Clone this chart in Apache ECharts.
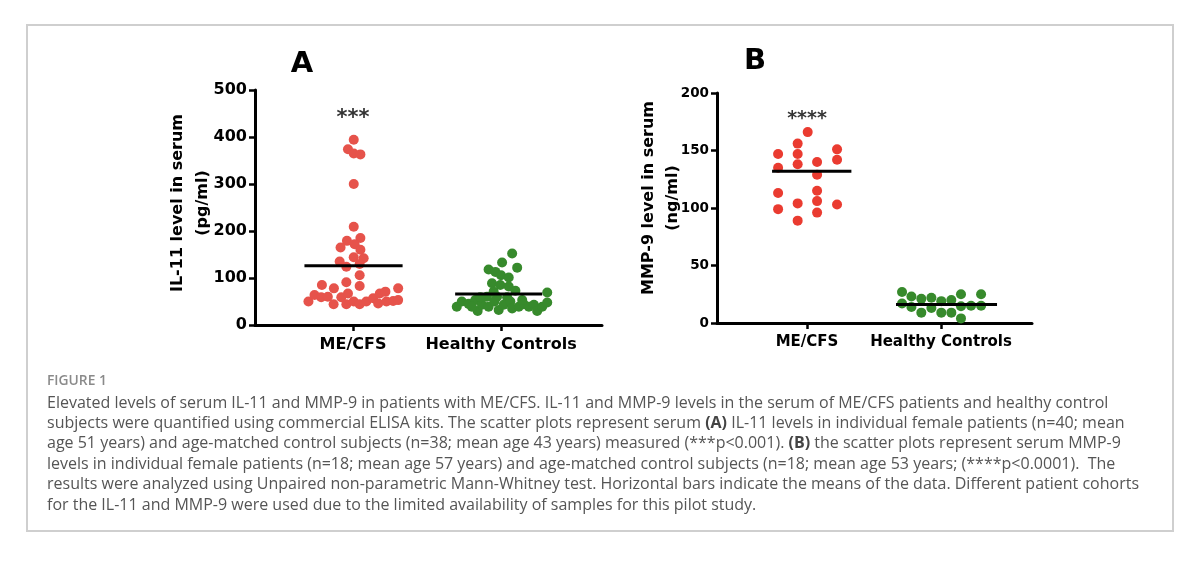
<!DOCTYPE html>
<html><head><meta charset="utf-8">
<script src="https://cdn.jsdelivr.net/npm/echarts@6/dist/echarts.min.js"></script>
<style>html,body{margin:0;padding:0;background:#fff}#c{width:1200px;height:562px}</style>
</head><body><div id="c"></div>
<script>
// ---------- data ----------
const categories = ['ME/CFS', 'Healthy Controls'];
const panelTitles = ['A', 'B'];
const sigLabels = ['***', '****'];
const sigValues = [440, 177];
const yNames = ['IL-11 level in serum\n(pg/ml)', 'MMP-9 level in serum\n(ng/ml)'];

// Panel A: IL-11 (pg/ml)
const ilTicks = [0, 100, 200, 300, 400, 500];
const ilMeValues = [394,374,365,363,300,209,185,179,165,172,160,135,124,144,142,130,106,91,83,85,78,78,50,64,59,60,44,59,44,67,50,44,50,57,46,67,71,50,51,53];
const ilMeJitter = [0.005,-0.034,0.005,0.05,0.005,0.005,0.05,-0.041,-0.084,0.011,0.05,-0.09,-0.045,0.005,0.072,0.045,0.045,-0.045,0.045,-0.21,-0.129,0.305,-0.301,-0.26,-0.215,-0.17,-0.131,-0.079,-0.045,-0.034,0.005,0.045,0.09,0.136,0.17,0.181,0.219,0.226,0.271,0.305];
const ilHcValues = [152,133,122,118,113,106,101,89,85,82,73,69,60,60,59,71,39,50,45,53,30,43,39,50,32,43,50,35,39,44,39,43,30,39,48,59,53,39];
const ilHcJitter = [0.075,0.007,0.109,-0.084,-0.038,0,0.052,-0.061,-0.005,0.052,0.097,0.312,-0.095,-0.027,0.041,-0.05,-0.299,-0.265,-0.219,-0.174,-0.158,-0.129,-0.084,-0.045,-0.016,0.018,0.063,0.075,0.12,0.154,0.188,0.222,0.244,0.278,0.312,-0.14,0.143,-0.197];
const ilMeans = [126, 66];

// Panel B: MMP-9 (ng/ml)
const mmpTicks = [0, 50, 100, 150, 200];
const mmpMeValues = [166,156,147,147,151,142,140,135,138,129,113,115,99,104,106,103,96,89];
const mmpMeJitter = [0.005,-0.07,-0.216,-0.07,0.224,0.224,0.075,-0.216,-0.07,0.075,-0.216,0.075,-0.216,-0.07,0.075,0.224,0.075,-0.07];
const mmpHcValues = [27,23,21,22,19,20,25,25,17,14,9,13,9,9,4,14.5,15,15];
const mmpHcJitter = [-0.291,-0.221,-0.147,-0.072,0.002,0.077,0.149,0.299,-0.291,-0.221,-0.147,-0.072,0.002,0.077,0.149,0.149,0.224,0.299];
const mmpMeans = [132, 16];

const captionHead = 'FIGURE 1';
const captionLines = [
  [['Elevated levels of serum IL-11 and MMP-9 in patients with ME/CFS. IL-11 and MMP-9 levels in the serum of ME/CFS patients and healthy control', 0]],
  [['subjects were quantified using commercial ELISA kits. The scatter plots represent serum ', 0], ['(A)', 1], [' IL-11 levels in individual female patients (n=40; mean', 0]],
  [['age 51 years) and age-matched control subjects (n=38; mean age 43 years) measured (***p<0.001). ', 0], ['(B)', 1], [' the scatter plots represent serum MMP-9', 0]],
  [['levels in individual female patients (n=18; mean age 57 years) and age-matched control subjects (n=18; mean age 53 years; (****p<0.0001).  The', 0]],
  [['results were analyzed using Unpaired non-parametric Mann-Whitney test. Horizontal bars indicate the means of the data. Different patient cohorts', 0]],
  [['for the IL-11 and MMP-9 were used due to the limited availability of samples for this pilot study.', 0]]
];

// ---------- chart ----------
const FONT = '"DejaVu Sans", sans-serif';
const CAP = '"Open Sans", sans-serif';
const RED_A = '#e6534b', RED_B = '#ea3b30', GREEN = '#378a2c';
const pts = (vals, jit, c) => vals.map((v, i) => [c + jit[i], v]);

function xAxis(idx, min, max, fs) {
  return {
    type: 'value', gridIndex: idx, min: min, max: max,
    splitLine: {show: false},
    axisLine: {show: true, lineStyle: {color: '#000', width: 3}},
    axisTick: {show: true, customValues: [1, 2], length: 6, lineStyle: {color: '#000', width: 2.5}},
    axisLabel: {customValues: [1, 2], formatter: v => categories[Math.round(v) - 1], margin: 12,
      color: '#000', fontFamily: FONT, fontWeight: 'bold', fontSize: fs}
  };
}
function yAxis(idx, max, interval, fs) {
  return {
    type: 'value', gridIndex: idx, min: 0, max: max, interval: interval,
    splitLine: {show: false},
    axisLine: {show: true, lineStyle: {color: '#000', width: 3}},
    axisTick: {show: true, length: 6, lineStyle: {color: '#000', width: 2.5}},
    axisLabel: {margin: 8, color: '#000', fontFamily: FONT, fontWeight: 'bold', fontSize: fs}
  };
}
function scatter(idx, data, color) {
  return {type: 'scatter', xAxisIndex: idx, yAxisIndex: idx, data: data, symbolSize: 10,
    itemStyle: {color: color, opacity: 1}, silent: true, z: 2};
}
function meanLine(idx, c, m, l, r) {
  return {type: 'line', xAxisIndex: idx, yAxisIndex: idx, data: [[c - l, m], [c + r, m]],
    symbol: 'none', lineStyle: {color: '#000', width: 3}, silent: true, z: 3};
}
function sig(idx, text, v, fs) {
  return {type: 'scatter', xAxisIndex: idx, yAxisIndex: idx, data: [[1, v]], symbolSize: 0,
    label: {show: true, position: 'inside', formatter: text, color: '#000', fontFamily: FONT, fontWeight: 'bold', fontSize: fs},
    silent: true};
}

const graphics = [
  {type: 'rect', shape: {x: 27, y: 25, width: 1146, height: 506}, style: {fill: 'none', stroke: '#cfcfcf', lineWidth: 2}},
  {type: 'text', x: 302, y: 64, style: {text: panelTitles[0], font: 'bold 29px ' + FONT, fill: '#000', textAlign: 'center', textVerticalAlign: 'middle'}},
  {type: 'text', x: 755, y: 61, style: {text: panelTitles[1], font: 'bold 29px ' + FONT, fill: '#000', textAlign: 'center', textVerticalAlign: 'middle'}},
  {type: 'text', x: 190, y: 203, rotation: Math.PI / 2, style: {text: yNames[0], font: 'bold 16px ' + FONT, lineHeight: 25, fill: '#000', textAlign: 'center', textVerticalAlign: 'middle'}},
  {type: 'text', x: 661, y: 198, rotation: Math.PI / 2, style: {text: yNames[1], font: 'bold 16px ' + FONT, lineHeight: 24, fill: '#000', textAlign: 'center', textVerticalAlign: 'middle'}},
  {type: 'text', x: 47, y: 381, style: {text: captionHead, font: '600 13.8px ' + CAP, fill: '#8a8a8a', textVerticalAlign: 'middle'}}
];
captionLines.forEach((parts, i) => {
  graphics.push({type: 'text', x: 47, y: 403 + i * 20.4, style: {
    rich: {n: {font: '16px ' + CAP, fill: '#555'}, b: {font: 'bold 16px ' + CAP, fill: '#444'}},
    text: parts.map(p => '{' + (p[1] ? 'b' : 'n') + '|' + p[0] + '}').join(''),
    textVerticalAlign: 'middle'}});
});

const chart = echarts.init(document.getElementById('c'), null, {renderer: 'canvas'});
chart.setOption({
  backgroundColor: '#fff',
  animation: false,
  grid: [
    {left: 255, top: 90, width: 347, height: 235},
    {left: 717, top: 93, width: 315, height: 230}
  ],
  xAxis: [xAxis(0, 0.338, 2.682, 16), xAxis(1, 0.328, 2.679, 15)],
  yAxis: [yAxis(0, ilTicks[ilTicks.length - 1], ilTicks[1] - ilTicks[0], 16),
          yAxis(1, mmpTicks[mmpTicks.length - 1], mmpTicks[1] - mmpTicks[0], 13.5)],
  series: [
    scatter(0, pts(ilMeValues, ilMeJitter, 1), RED_A),
    scatter(0, pts(ilHcValues, ilHcJitter, 2), GREEN),
    meanLine(0, 1, ilMeans[0], 0.328, 0.335),
    meanLine(0, 2, ilMeans[1], 0.31, 0.278),
    sig(0, sigLabels[0], sigValues[0], 21),
    scatter(1, pts(mmpMeValues, mmpMeJitter, 1), RED_B),
    scatter(1, pts(mmpHcValues, mmpHcJitter, 2), GREEN),
    meanLine(1, 1, mmpMeans[0], 0.261, 0.331),
    meanLine(1, 2, mmpMeans[1], 0.336, 0.418),
    sig(1, sigLabels[1], sigValues[1], 19)
  ],
  graphic: graphics
});
</script></body></html>
